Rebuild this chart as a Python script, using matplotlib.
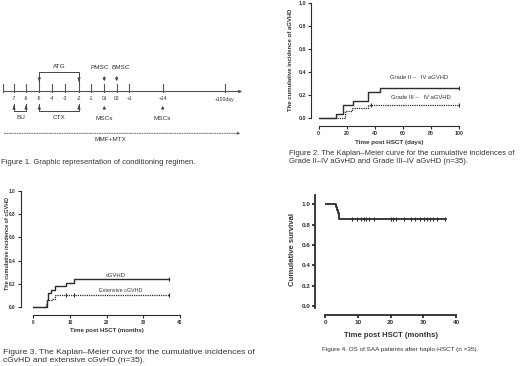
import matplotlib
matplotlib.use("Agg")
from matplotlib import pyplot as plt

plt.rcParams['font.family'] = ['Liberation Sans', 'DejaVu Sans']

W, H = 520, 366

# Figure 1: timeline
day_labels = ['', '-7', '-6', '-5', '-4', '-3', '-2', '-1', '01', '02', '+1', '+14', '+100day']

# Figure 2: aGvHD cumulative incidence (days)
agvhd_t = [0, 12.3, 17.5, 24.5, 35.2, 44, 100]
agvhd_y = [0, 0.029, 0.114, 0.143, 0.229, 0.257, 0.257]
agvhd_cens = [100]
sev_agvhd_t = [0, 18.7, 24, 35, 100]
sev_agvhd_y = [0, 0.057, 0.086, 0.114, 0.114]
sev_agvhd_cens = [37, 100]

# Figure 3: cGvHD cumulative incidence (months)
cgvhd_t = [0, 3.6, 3.9, 4.9, 6, 9, 11, 37]
cgvhd_y = [0, 0.06, 0.12, 0.15, 0.18, 0.21, 0.24, 0.24]
cgvhd_cens = [37]
ext_cgvhd_t = [0, 3.5, 3.8, 5, 6, 37]
ext_cgvhd_y = [0, 0.03, 0.06, 0.07, 0.1, 0.1]
ext_cgvhd_cens = [9, 11, 37]

# Figure 4: overall survival (months)
os_t = [0, 3.4, 3.65, 3.9, 4.15, 4.4, 37]
os_y = [1.0, 0.971, 0.943, 0.914, 0.886, 0.857, 0.857]
os_cens = [8.1, 9.7, 11.0, 11.8, 12.5, 13.3, 15.0, 20.1, 20.9, 21.7, 24.0,
           26.2, 27.6, 29.0, 30.1, 31.1, 32.2, 33.1, 34.1, 36.7]

captions = [
    "Figure 1. Graphic representation of conditioning regimen.",
    "Figure 2. The Kaplan\u2013Meier curve for the cumulative incidences of\n"
    "Grade II\u2013IV aGvHD and Grade III\u2013IV aGvHD (n=35).",
    "Figure 3. The Kaplan\u2013Meier curve for the cumulative incidences of\n"
    "cGvHD and extensive cGvHD (n=35).",
    "Figure 4. OS of SAA patients after haplo-HSCT (n =35).",
]

LINE = '#2b2b2b'
TXT = '#333333'
PX = 72 / 100  # points per pixel

fig = plt.figure(figsize=(W / 100, H / 100), dpi=100)


def px_axes(left, top, right, bottom):
    return fig.add_axes([left / W, 1 - bottom / H, (right - left) / W, (bottom - top) / H])


def style_prism(ax, lw, tick_fs, out_x, out_y, ybounds, xbounds):
    for s in ['top', 'right']:
        ax.spines[s].set_visible(False)
    for s in ['left', 'bottom']:
        ax.spines[s].set_linewidth(lw)
        ax.spines[s].set_color(LINE)
    ax.spines['left'].set_position(('outward', out_y * PX))
    ax.spines['bottom'].set_position(('outward', out_x * PX))
    ax.spines['left'].set_bounds(*ybounds)
    ax.spines['bottom'].set_bounds(*xbounds)
    ax.tick_params(direction='out', length=2.3, width=lw, labelsize=tick_fs, pad=1.2,
                   color=LINE, labelcolor=TXT)
    for lab in ax.get_xticklabels() + ax.get_yticklabels():
        lab.set_fontweight('bold')
    ax.patch.set_visible(False)


def km(ax, t, y, cens, ls, lw, ms):
    ax.step(t, y, where='post', color=LINE, lw=lw, ls=ls)
    cy = [y[-1]] * len(cens)
    ax.plot(cens, cy, ls='none', marker='|', color=LINE, ms=ms, mew=0.8)


# ---- Figure 1: schematic timeline in pixel coordinates
ax1 = fig.add_axes([0, 0, 1, 1])
ax1.set_xlim(0, W)
ax1.set_ylim(H, 0)
ax1.axis('off')

tick_x = [2.7, 14, 26, 39.3, 51.7, 65, 79, 90.7, 104.3, 116.7, 129.3, 162.7, 225]
line_y = 91.5
ax1.annotate('', xy=(245, line_y), xytext=(1.5, line_y),
             arrowprops=dict(arrowstyle='-|>', color='#555555', lw=0.8, mutation_scale=4))
for x, lab in zip(tick_x, day_labels):
    ax1.plot([x, x], [line_y - 7.5, line_y], color='#555555', lw=0.8)
    ax1.text(x, line_y + 7.5, lab, fontsize=3.6, ha='center', va='center', color=TXT)

arr = dict(arrowstyle='-|>', color='#444444', lw=0.7, mutation_scale=4)
# ATG bracket
ax1.plot([39.3, 39.3, 79, 79], [83, 72, 72, 83], color='#444444', lw=0.7)
ax1.annotate('', xy=(39.3, 84), xytext=(39.3, 78), arrowprops=arr)
ax1.annotate('', xy=(79, 84), xytext=(79, 78), arrowprops=arr)
ax1.text(59, 66.5, 'ATG', fontsize=4.6, ha='center', va='center', color=TXT)
# PMSC / BMSC
ax1.annotate('', xy=(104.3, 84), xytext=(104.3, 74), arrowprops=arr)
ax1.text(100, 67.5, 'PMSC', fontsize=4.6, ha='center', va='center', color=TXT)
ax1.annotate('', xy=(116.7, 84), xytext=(116.7, 74), arrowprops=arr)
ax1.text(121, 67.5, 'BMSC', fontsize=4.6, ha='center', va='center', color=TXT)
# BU bracket
ax1.plot([14, 14, 26, 26], [104, 111, 111, 104], color='#444444', lw=0.7)
ax1.annotate('', xy=(14, 103), xytext=(14, 109), arrowprops=arr)
ax1.annotate('', xy=(26, 103), xytext=(26, 109), arrowprops=arr)
ax1.text(20.5, 117.5, 'BU', fontsize=4.6, ha='center', va='center', color=TXT)
# CTX bracket
ax1.plot([39.3, 39.3, 79, 79], [104, 111, 111, 104], color='#444444', lw=0.7)
ax1.annotate('', xy=(39.3, 103), xytext=(39.3, 109), arrowprops=arr)
ax1.annotate('', xy=(79, 103), xytext=(79, 109), arrowprops=arr)
ax1.text(59, 117.5, 'CTX', fontsize=4.6, ha='center', va='center', color=TXT)
# MSCs
for x in [104.3, 162.7]:
    ax1.annotate('', xy=(x, 103), xytext=(x, 111), arrowprops=arr)
    ax1.text(x, 118.5, 'MSCs', fontsize=4.6, ha='center', va='center', color=TXT)
# MMF+MTX
ax1.annotate('', xy=(243, 133.3), xytext=(1.5, 133.3),
             arrowprops=dict(arrowstyle='-|>', color='#555555', lw=0.6, ls=(0, (1.5, 1.5)),
                             mutation_scale=4))
ax1.text(110, 139.5, 'MMF+MTX', fontsize=4.6, ha='center', va='center', color=TXT)

# captions
ax1.text(1, 162.5, captions[0], fontsize=5.5, ha='left', va='center', color=TXT)
ax1.text(289, 157.7, captions[1], fontsize=5.5, ha='left', va='center', color=TXT,
         linespacing=1.3)
ax1.text(3, 356, captions[2], fontsize=6.1, ha='left', va='center', color=TXT,
         linespacing=1.2)
ax1.text(322.5, 350, captions[3], fontsize=4.6, ha='left', va='center', color=TXT)

# ---- Figure 2
ax2 = px_axes(318.7, 3.3, 459, 120)
km(ax2, agvhd_t, agvhd_y, agvhd_cens, '-', 1.0, 2.5)
km(ax2, sev_agvhd_t, sev_agvhd_y, sev_agvhd_cens, (0, (1, 0.8)), 0.9, 2.5)
ax2.set_xlim(0, 100)
ax2.set_ylim(-0.02, 1.0)
ax2.set_xticks([0, 20, 40, 60, 80, 100])
ax2.set_yticks([0, 0.2, 0.4, 0.6, 0.8, 1.0])
ax2.set_yticklabels(['0.0', '0.2', '0.4', '0.6', '0.8', '1.0'])
style_prism(ax2, 0.8, 3.8, 6, 8, (0, 1.0), (0, 100))
ax2.set_xlabel('Time post HSCT (days)', fontsize=4.5, fontweight='bold', color=TXT)
ax2.xaxis.set_label_coords(388.8, 140, transform=ax1.transData)
ax2.set_ylabel('The cumulative incidence of aGVHD', fontsize=4.3, fontweight='bold',
               color=TXT)
ax2.yaxis.set_label_coords(293.5, 60, transform=ax1.transData)
ax2.text(390, 77.7, 'Grade II \u2013   IV aGVHD', transform=ax1.transData, fontsize=4.2,
         ha='left', va='center', color=TXT)
ax2.text(391, 97.7, 'Grade III \u2013   IV aGVHD', transform=ax1.transData, fontsize=4.2,
         ha='left', va='center', color=TXT)

# ---- Figure 3
ax3 = px_axes(33.3, 191, 180, 309.3)
km(ax3, cgvhd_t, cgvhd_y, cgvhd_cens, '-', 1.0, 2.5)
km(ax3, ext_cgvhd_t, ext_cgvhd_y, ext_cgvhd_cens, (0, (1, 0.8)), 0.9, 2.5)
ax3.set_xlim(0, 40)
ax3.set_ylim(-0.02, 1.0)
ax3.set_xticks([0, 10, 20, 30, 40])
ax3.set_yticks([0, 0.2, 0.4, 0.6, 0.8, 1.0])
ax3.set_yticklabels(['0.0', '0.2', '0.4', '0.6', '0.8', '1.0'])
style_prism(ax3, 0.8, 3.4, 5.7, 12.6, (0, 1.0), (0, 40))
ax3.set_xlabel('Time post HSCT (months)', fontsize=4.3, fontweight='bold', color=TXT)
ax3.xaxis.set_label_coords(106.5, 328, transform=ax1.transData)
ax3.set_ylabel('The cumulative incidence of cGVHD', fontsize=3.9, fontweight='bold',
               color=TXT)
ax3.yaxis.set_label_coords(10.5, 243, transform=ax1.transData)
ax3.text(116, 275.7, 'cGVHD', transform=ax1.transData, fontsize=4.2, ha='center',
         va='center', color=TXT)
ax3.text(121, 290.7, 'Extensive cGVHD', transform=ax1.transData, fontsize=3.9,
         ha='center', va='center', color=TXT)

# ---- Figure 4
ax4 = px_axes(325, 195, 456, 308)
km(ax4, os_t, os_y, os_cens, '-', 1.3, 2.5)
ax4.set_xlim(0, 40)
ax4.set_ylim(-0.02, 1.09)
ax4.set_xticks([0, 10, 20, 30, 40])
ax4.set_yticks([0, 0.2, 0.4, 0.6, 0.8, 1.0])
ax4.set_yticklabels(['0.0', '0.2', '0.4', '0.6', '0.8', '1.0'])
style_prism(ax4, 1.3, 4.6, 7, 10, (-0.02, 1.09), (0, 40))
ax4.set_xlabel('Time post HSCT (months)', fontsize=5.5, fontweight='bold', color=TXT)
ax4.xaxis.set_label_coords(390.5, 332, transform=ax1.transData)
ax4.set_ylabel('Cumulative survival', fontsize=5.6, fontweight='bold', color=TXT)
ax4.yaxis.set_label_coords(295.7, 250, transform=ax1.transData)

fig.savefig('out.png', dpi=100)
